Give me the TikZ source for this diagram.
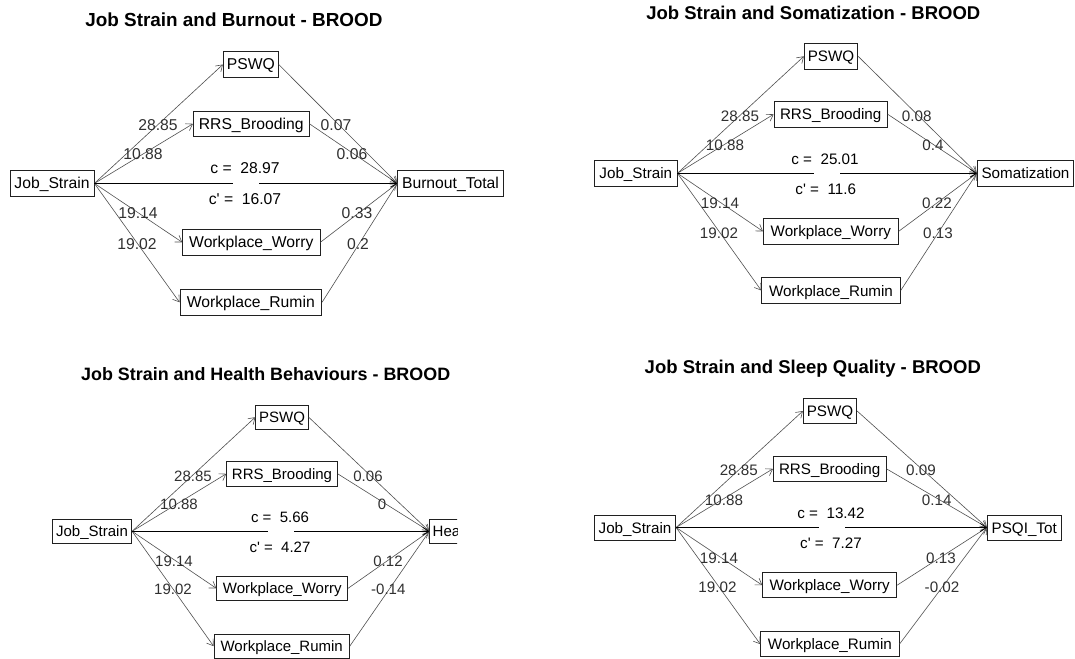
\documentclass[tikz,border=0pt]{standalone}
\usepackage{fontspec}
\newfontfamily\lsans{Liberation Sans}
\usetikzlibrary{arrows.meta,calc}
\definecolor{linec}{HTML}{505050}
\definecolor{boxc}{HTML}{202020}
\definecolor{labc}{HTML}{303030}
\begin{document}
\begin{tikzpicture}[x=1pt,y=-1pt,
  fA/.style={font=\lsans\fontsize{15.7}{16}\selectfont},
  fB/.style={font=\lsans\fontsize{15.2}{16}\selectfont},
  fC/.style={font=\lsans\fontsize{15.0}{16}\selectfont},
  box/.style={draw=boxc, line width=0.8pt, inner sep=0pt, text=black, text height=11pt, text depth=0pt},
  lab/.style={inner sep=0pt, text=labc, text height=11pt, text depth=0pt},
  clab/.style={inner sep=0pt, text=black, text height=11pt, text depth=0pt},
  ttl/.style={inner sep=0pt, text=black, text height=13.3pt, text depth=0pt},
  edge/.style={draw=linec, line width=0.6pt, -{Straight Barb[length=6pt,width=8pt]}},
  cedge/.style={draw=black, line width=0.7pt, -{Straight Barb[length=6pt,width=8pt]}},
  gapn/.style={fill=white, inner sep=0pt, minimum width=26pt, minimum height=3pt}
]
\useasboundingbox[fill=white] (0,0) rectangle (1075,658);

% ---------------- Panel 1 ----------------
\node[ttl, font=\lsans\bfseries\fontsize{18.9}{20}\selectfont] (t1) at (233.9,20) {Job Strain and Burnout - BROOD};
\begin{scope}[every node/.append style={fA}]
\node[box, minimum width=84pt, minimum height=25.3pt] (js1) at (52,183.4) {Job\_Strain};
\node[box, minimum width=55pt, minimum height=25.6pt] (pswq1) at (250.8,64.5) {PSWQ};
\node[box, minimum width=115.7pt, minimum height=25.6pt] (rrs1) at (251.2,123.8) {RRS\_Brooding};
\node[box, minimum width=137.3pt, minimum height=26pt] (wor1) at (251.3,242.3) {Workplace\_Worry};
\node[box, minimum width=141.7pt, minimum height=26pt] (rum1) at (250.8,302.3) {Workplace\_Rumin};
\node[box, minimum width=105.6pt, minimum height=25.3pt] (out1) at (450.5,183.4) {Burnout\_Total};
\foreach \m in {pswq1,rrs1,wor1,rum1}{
  \draw[edge] (js1.east) -- (\m.west);
  \draw[edge] (\m.east) -- (out1.west);
}
\draw[cedge] (js1.east) -- (out1.west);
\node[gapn] (gap1) at ($(js1.east)!0.5!(out1.west)$) {};
\node[lab] (a11) at (158,125) {28.85};
\node[lab] (a12) at (143,154.3) {10.88};
\node[lab] (a13) at (138,213) {19.14};
\node[lab] (a14) at (137,244) {19.02};
\node[lab] (b11) at (336,125) {0.07};
\node[lab] (b12) at (352,154.3) {0.06};
\node[lab] (b13) at (357,213) {0.33};
\node[lab] (b14) at (358,244) {0.2};
\node[clab] (c1) at (245,168) {c =~~28.97};
\node[clab] (cp1) at (245,199) {c' =~~16.07};
\end{scope}

% ---------------- Panel 2 ----------------
\node[ttl, font=\lsans\bfseries\fontsize{18.5}{20}\selectfont] (t2) at (813.3,12.7) {Job Strain and Somatization - BROOD};
\begin{scope}[every node/.append style={fB}]
\node[box, minimum width=82.5pt, minimum height=25.3pt] (js2) at (635.8,173.3) {Job\_Strain};
\node[box, minimum width=53.4pt, minimum height=25.3pt] (pswq2) at (831,56.3) {PSWQ};
\node[box, minimum width=113.3pt, minimum height=25.3pt] (rrs2) at (830.7,114.3) {RRS\_Brooding};
\node[box, minimum width=135pt, minimum height=25.3pt] (wor2) at (830.8,231.3) {Workplace\_Worry};
\node[box, minimum width=138.6pt, minimum height=25.6pt] (rum2) at (831,290.5) {Workplace\_Rumin};
\node[box, minimum width=96.5pt, minimum height=25.3pt] (out2) at (1025.5,173.3) {Somatization};
\foreach \m in {pswq2,rrs2,wor2,rum2}{
  \draw[edge] (js2.east) -- (\m.west);
  \draw[edge] (\m.east) -- (out2.west);
}
\draw[cedge] (js2.east) -- (out2.west);
\node[gapn] (gap2) at ($(js2.east)!0.5!(out2.west)$) {};
\node[lab] (a21) at (740,116) {28.85};
\node[lab] (a22) at (725,145) {10.88};
\node[lab] (a23) at (720,203.3) {19.14};
\node[lab] (a24) at (719,233.3) {19.02};
\node[lab] (b21) at (916.7,116) {0.08};
\node[lab] (b22) at (933,145) {0.4};
\node[lab] (b23) at (937,203.3) {0.22};
\node[lab] (b24) at (938,233.3) {0.13};
\node[clab] (c2) at (825,159.3) {c =~~25.01};
\node[clab] (cp2) at (825.7,189.3) {c' =~~11.6};
\end{scope}

% ---------------- Panel 3 ----------------
\node[ttl, font=\lsans\bfseries\fontsize{17.9}{20}\selectfont] (t3) at (265.7,374.3) {Job Strain and Health Behaviours - BROOD};
\begin{scope}
\clip (0,330) rectangle (457,658);
\begin{scope}[every node/.append style={fC}]
\node[box, minimum width=79.4pt, minimum height=24pt] (js3) at (92,531.3) {Job\_Strain};
\node[box, minimum width=52.6pt, minimum height=24.3pt] (pswq3) at (282,417.2) {PSWQ};
\node[box, minimum width=110.6pt, minimum height=24.3pt] (rrs3) at (282,473.8) {RRS\_Brooding};
\node[box, minimum width=131pt, minimum height=24.7pt] (wor3) at (282.2,588.3) {Workplace\_Worry};
\node[box, minimum width=135.3pt, minimum height=24.3pt] (rum3) at (281.7,646.2) {Workplace\_Rumin};
\node[box, anchor=west, text width=54pt, align=left, inner xsep=3pt, minimum height=24pt] (out3) at (429.3,531.3) {Hea};
\foreach \m in {pswq3,rrs3,wor3,rum3}{
  \draw[edge] (js3.east) -- (\m.west);
  \draw[edge] (\m.east) -- (out3.west);
}
\draw[cedge] (js3.east) -- (out3.west);
\node[gapn] (gap3) at ($(js3.east)!0.5!(out3.west)$) {};
\node[lab] (a31) at (193,475.7) {28.85};
\node[lab] (a32) at (179,504) {10.88};
\node[lab] (a33) at (174,560.7) {19.14};
\node[lab] (a34) at (173,589.3) {19.02};
\node[lab] (b31) at (368,475.7) {0.06};
\node[lab] (b32) at (382,504) {0};
\node[lab] (b33) at (388,560.7) {0.12};
\node[lab] (b34) at (388.3,589.3) {-0.14};
\node[clab] (c3) at (280,517.3) {c =~~5.66};
\node[clab] (cp3) at (280,546.7) {c' =~~4.27};
\end{scope}
\end{scope}

% ---------------- Panel 4 ----------------
\node[ttl, font=\lsans\bfseries\fontsize{18.5}{20}\selectfont] (t4) at (812.8,367.3) {Job Strain and Sleep Quality - BROOD};
\begin{scope}[every node/.append style={fB}]
\node[box, minimum width=81.4pt, minimum height=25pt] (js4) at (635,527.5) {Job\_Strain};
\node[box, minimum width=53.4pt, minimum height=24.6pt] (pswq4) at (830,411) {PSWQ};
\node[box, minimum width=112.7pt, minimum height=24.3pt] (rrs4) at (829.7,468.8) {RRS\_Brooding};
\node[box, minimum width=134pt, minimum height=25pt] (wor4) at (829.7,585.2) {Workplace\_Worry};
\node[box, minimum width=138.3pt, minimum height=25pt] (rum4) at (829.9,644.2) {Workplace\_Rumin};
\node[box, minimum width=73.7pt, minimum height=25pt] (out4) at (1024.2,527.5) {PSQI\_Tot};
\foreach \m in {pswq4,rrs4,wor4,rum4}{
  \draw[edge] (js4.east) -- (\m.west);
  \draw[edge] (\m.east) -- (out4.west);
}
\draw[cedge] (js4.east) -- (out4.west);
\node[gapn] (gap4) at ($(js4.east)!0.5!(out4.west)$) {};
\node[lab] (a41) at (738.8,470) {28.85};
\node[lab] (a42) at (724,500) {10.88};
\node[lab] (a43) at (719,557.7) {19.14};
\node[lab] (a44) at (717.5,586.7) {19.02};
\node[lab] (b41) at (921,470) {0.09};
\node[lab] (b42) at (936.7,500) {0.14};
\node[lab] (b43) at (941,557.7) {0.13};
\node[lab] (b44) at (942,586.7) {-0.02};
\node[clab] (c4) at (831,512.7) {c =~~13.42};
\node[clab] (cp4) at (831,542.7) {c' =~~7.27};
\end{scope}
\end{tikzpicture}
\end{document}
